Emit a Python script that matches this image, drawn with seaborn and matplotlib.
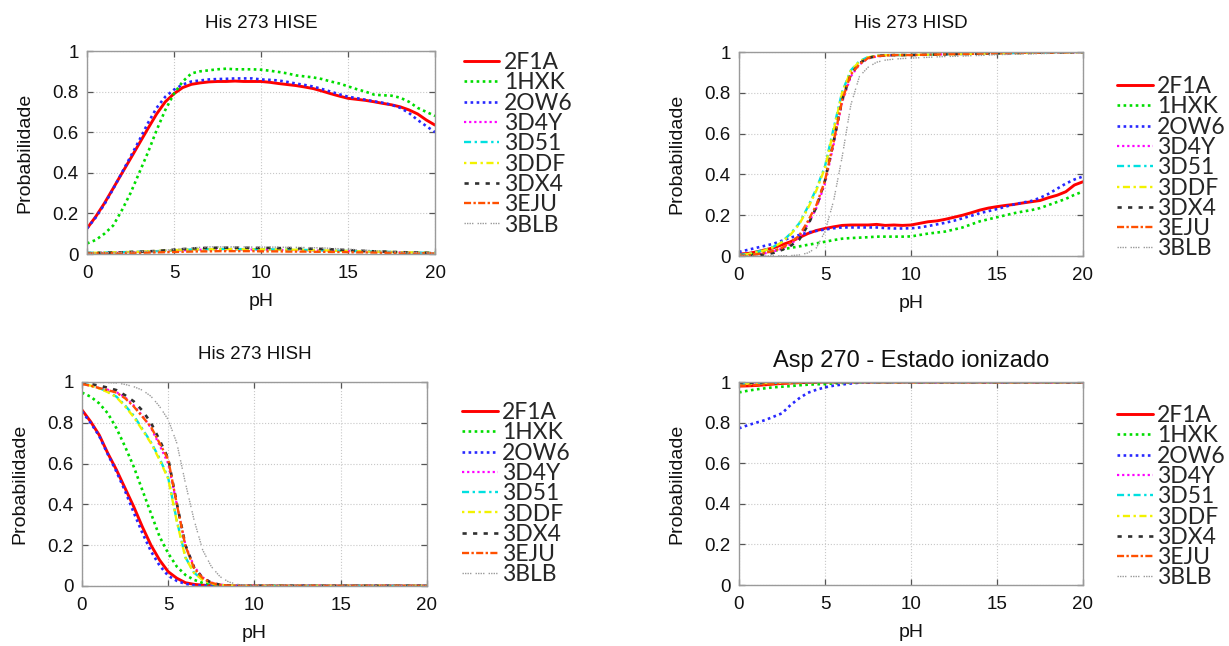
import matplotlib
matplotlib.use("Agg")
import matplotlib.pyplot as plt
import pandas as pd
import seaborn as sns
from matplotlib.font_manager import FontProperties

# ---------------------------------------------------------------- data
series = ["2F1A", "1HXK", "2OW6", "3D4Y", "3D51", "3DDF", "3DX4", "3EJU", "3BLB"]

ph_full = [0, 0.5, 1, 1.5, 2, 2.5, 3, 3.5, 4, 4.5, 5, 5.5, 6, 6.5, 7, 7.5, 8, 8.5, 9, 9.5,
           10, 10.5, 11, 11.5, 12, 12.5, 13, 13.5, 14, 14.5, 15, 15.5, 16, 16.5, 17, 17.5,
           18, 18.5, 19, 19.5, 20]
ph_hish = [0, 0.5, 1, 1.5, 2, 2.5, 3, 3.5, 4, 4.5, 5, 5.5, 6, 6.5, 7, 7.5, 8, 8.5, 9, 9.5,
           10, 12, 14, 16, 18, 20]
ph_asp = [0, 0.5, 1, 1.5, 2, 2.5, 3, 3.5, 4, 4.5, 5, 5.5, 6, 6.5, 7, 7.5, 8,
          10, 12, 14, 16, 18, 20]

# His 273 - HISE
hise_2f1a = [0.126, 0.184, 0.25, 0.323, 0.397, 0.47, 0.544, 0.618, 0.69, 0.75, 0.79, 0.82, 0.836, 0.843,
             0.848, 0.85, 0.85, 0.852, 0.85, 0.85, 0.85, 0.846, 0.84, 0.835, 0.83, 0.823, 0.815, 0.803,
             0.79, 0.778, 0.767, 0.762, 0.757, 0.75, 0.742, 0.735, 0.725, 0.71, 0.69, 0.66, 0.635]
hise_1hxk = [0.052, 0.069, 0.10, 0.14, 0.215, 0.30, 0.40, 0.50, 0.61, 0.71, 0.79, 0.85, 0.89, 0.90,
             0.905, 0.91, 0.913, 0.91, 0.91, 0.91, 0.908, 0.903, 0.897, 0.89, 0.88, 0.875, 0.87, 0.862,
             0.85, 0.84, 0.826, 0.812, 0.80, 0.785, 0.782, 0.78, 0.77, 0.75, 0.72, 0.70, 0.68]
hise_2ow6 = [0.126, 0.18, 0.245, 0.32, 0.40, 0.48, 0.56, 0.645, 0.72, 0.775, 0.81, 0.835, 0.85, 0.855,
             0.86, 0.862, 0.863, 0.865, 0.865, 0.865, 0.86, 0.858, 0.855, 0.848, 0.84, 0.833, 0.825,
             0.813, 0.80, 0.787, 0.775, 0.768, 0.76, 0.752, 0.745, 0.735, 0.72, 0.695, 0.66, 0.63, 0.60]
hise_3d4y = [0.005, 0.005, 0.006, 0.007, 0.008, 0.009, 0.010, 0.011, 0.012, 0.014, 0.016, 0.018, 0.020,
             0.021, 0.022, 0.022, 0.022, 0.022, 0.022, 0.022, 0.021, 0.021, 0.020, 0.020, 0.019, 0.019,
             0.018, 0.017, 0.016, 0.015, 0.014, 0.013, 0.012, 0.011, 0.010, 0.009, 0.008, 0.007, 0.006,
             0.005, 0.005]
hise_3d51 = [0.006, 0.006, 0.007, 0.008, 0.009, 0.010, 0.011, 0.012, 0.014, 0.016, 0.018, 0.020, 0.022,
             0.023, 0.024, 0.024, 0.025, 0.024, 0.024, 0.024, 0.023, 0.023, 0.022, 0.022, 0.021, 0.020,
             0.019, 0.018, 0.017, 0.016, 0.015, 0.014, 0.013, 0.012, 0.011, 0.010, 0.009, 0.008, 0.007,
             0.006, 0.006]
hise_3ddf = [0.005, 0.006, 0.007, 0.008, 0.009, 0.010, 0.011, 0.013, 0.015, 0.017, 0.019, 0.021, 0.022,
             0.023, 0.023, 0.024, 0.024, 0.024, 0.023, 0.023, 0.023, 0.022, 0.022, 0.021, 0.021, 0.020,
             0.019, 0.018, 0.017, 0.016, 0.015, 0.014, 0.013, 0.012, 0.011, 0.010, 0.009, 0.008, 0.007,
             0.006, 0.005]
hise_3dx4 = [0.004, 0.005, 0.006, 0.007, 0.008, 0.010, 0.011, 0.013, 0.015, 0.018, 0.021, 0.024, 0.027,
             0.029, 0.030, 0.031, 0.031, 0.031, 0.031, 0.030, 0.030, 0.030, 0.029, 0.029, 0.028, 0.027,
             0.026, 0.025, 0.023, 0.021, 0.019, 0.017, 0.015, 0.013, 0.012, 0.010, 0.009, 0.008, 0.007,
             0.006, 0.005]
hise_3eju = [0.003, 0.003, 0.004, 0.004, 0.005, 0.006, 0.006, 0.007, 0.008, 0.009, 0.010, 0.011, 0.012,
             0.013, 0.013, 0.014, 0.014, 0.014, 0.014, 0.014, 0.013, 0.013, 0.013, 0.012, 0.012, 0.012,
             0.011, 0.011, 0.010, 0.010, 0.009, 0.008, 0.008, 0.007, 0.006, 0.006, 0.005, 0.005, 0.004,
             0.004, 0.003]
hise_3blb = [0.004, 0.005, 0.006, 0.007, 0.009, 0.010, 0.012, 0.014, 0.016, 0.019, 0.022, 0.026, 0.030,
             0.033, 0.035, 0.035, 0.035, 0.035, 0.035, 0.034, 0.034, 0.034, 0.034, 0.033, 0.033, 0.032,
             0.031, 0.030, 0.028, 0.026, 0.024, 0.021, 0.019, 0.016, 0.014, 0.012, 0.010, 0.008, 0.007,
             0.006, 0.005]

# His 273 - HISD
hisd_2f1a = [0.010, 0.012, 0.020, 0.030, 0.040, 0.055, 0.070, 0.090, 0.110, 0.125, 0.135, 0.143, 0.150,
             0.152, 0.152, 0.152, 0.155, 0.150, 0.152, 0.150, 0.152, 0.160, 0.168, 0.172, 0.180, 0.190,
             0.200, 0.212, 0.225, 0.235, 0.242, 0.248, 0.253, 0.260, 0.266, 0.272, 0.286, 0.298, 0.315,
             0.348, 0.364]
hisd_1hxk = [0.000, 0.003, 0.010, 0.017, 0.025, 0.032, 0.040, 0.047, 0.055, 0.062, 0.070, 0.078, 0.085,
             0.088, 0.090, 0.092, 0.095, 0.095, 0.095, 0.095, 0.096, 0.103, 0.110, 0.115, 0.120, 0.130,
             0.140, 0.155, 0.170, 0.180, 0.190, 0.200, 0.210, 0.218, 0.225, 0.235, 0.250, 0.265, 0.280,
             0.300, 0.316]
hisd_2ow6 = [0.020, 0.030, 0.040, 0.050, 0.060, 0.075, 0.090, 0.103, 0.115, 0.123, 0.130, 0.136, 0.140,
             0.140, 0.140, 0.140, 0.140, 0.137, 0.135, 0.135, 0.136, 0.140, 0.147, 0.155, 0.163, 0.173,
             0.185, 0.197, 0.210, 0.220, 0.230, 0.242, 0.253, 0.262, 0.270, 0.285, 0.305, 0.330, 0.355,
             0.375, 0.390]
hisd_3d4y = [0.000, 0.003, 0.007, 0.013, 0.022, 0.036, 0.058, 0.092, 0.155, 0.235, 0.355, 0.545, 0.755,
             0.880, 0.938, 0.968, 0.978, 0.982, 0.984, 0.985, 0.985, 0.986, 0.987, 0.988, 0.989, 0.990,
             0.990, 0.991, 0.992, 0.993, 0.994, 0.994, 0.995, 0.996, 0.996, 0.997, 0.997, 0.998, 0.998,
             0.999, 1.000]
hisd_3d51 = [0.005, 0.010, 0.020, 0.030, 0.045, 0.070, 0.110, 0.160, 0.240, 0.330, 0.440, 0.625, 0.805,
             0.910, 0.955, 0.975, 0.982, 0.985, 0.985, 0.985, 0.986, 0.986, 0.987, 0.988, 0.989, 0.990,
             0.990, 0.991, 0.992, 0.993, 0.994, 0.994, 0.995, 0.996, 0.996, 0.997, 0.997, 0.998, 0.998,
             0.999, 1.000]
hisd_3ddf = [0.004, 0.009, 0.018, 0.028, 0.043, 0.068, 0.105, 0.155, 0.232, 0.322, 0.432, 0.615, 0.800,
             0.908, 0.953, 0.974, 0.981, 0.984, 0.985, 0.985, 0.985, 0.986, 0.987, 0.988, 0.989, 0.989,
             0.990, 0.991, 0.992, 0.993, 0.993, 0.994, 0.995, 0.995, 0.996, 0.997, 0.997, 0.998, 0.998,
             0.999, 1.000]
hisd_3dx4 = [0.000, 0.000, 0.003, 0.008, 0.015, 0.030, 0.050, 0.080, 0.150, 0.240, 0.370, 0.560, 0.765,
             0.890, 0.945, 0.970, 0.980, 0.983, 0.985, 0.985, 0.985, 0.986, 0.987, 0.988, 0.989, 0.990,
             0.990, 0.991, 0.992, 0.993, 0.994, 0.994, 0.995, 0.996, 0.996, 0.997, 0.997, 0.998, 0.998,
             0.999, 1.000]
hisd_3eju = [0.000, 0.003, 0.008, 0.015, 0.025, 0.040, 0.065, 0.100, 0.170, 0.250, 0.370, 0.560, 0.765,
             0.890, 0.940, 0.970, 0.980, 0.983, 0.985, 0.985, 0.985, 0.986, 0.987, 0.988, 0.989, 0.990,
             0.990, 0.991, 0.992, 0.993, 0.994, 0.994, 0.995, 0.996, 0.996, 0.997, 0.997, 0.998, 0.998,
             0.999, 1.000]
hisd_3blb = [0.000, 0.000, 0.000, 0.000, 0.001, 0.001, 0.002, 0.005, 0.015, 0.040, 0.120, 0.270, 0.487,
             0.740, 0.880, 0.925, 0.950, 0.960, 0.965, 0.968, 0.970, 0.972, 0.974, 0.976, 0.978, 0.979,
             0.980, 0.982, 0.983, 0.985, 0.987, 0.988, 0.989, 0.990, 0.991, 0.992, 0.993, 0.995, 0.996,
             0.998, 1.000]

# His 273 - HISH
hish_2f1a = [0.863, 0.806, 0.740, 0.650, 0.569, 0.479, 0.389, 0.290, 0.200, 0.127, 0.070, 0.038, 0.016,
             0.008, 0.004, 0.002, 0.001, 0.0, 0.0, 0.0, 0.0, 0.0, 0.0, 0.0, 0.0, 0.0]
hish_1hxk = [0.948, 0.928, 0.895, 0.846, 0.773, 0.683, 0.585, 0.470, 0.356, 0.242, 0.160, 0.095, 0.054,
             0.030, 0.015, 0.007, 0.003, 0.001, 0.0, 0.0, 0.0, 0.0, 0.0, 0.0, 0.0, 0.0]
hish_2ow6 = [0.855, 0.800, 0.735, 0.645, 0.560, 0.465, 0.360, 0.260, 0.170, 0.100, 0.050, 0.025, 0.010,
             0.004, 0.002, 0.001, 0.0, 0.0, 0.0, 0.0, 0.0, 0.0, 0.0, 0.0, 0.0, 0.0]
hish_3d4y = [0.990, 0.982, 0.970, 0.962, 0.950, 0.925, 0.885, 0.835, 0.775, 0.690, 0.600, 0.400, 0.200,
             0.095, 0.042, 0.017, 0.007, 0.003, 0.001, 0.0, 0.0, 0.0, 0.0, 0.0, 0.0, 0.0]
hish_3d51 = [0.993, 0.983, 0.970, 0.952, 0.928, 0.885, 0.835, 0.770, 0.705, 0.625, 0.530, 0.320, 0.140,
             0.065, 0.030, 0.013, 0.005, 0.002, 0.001, 0.0, 0.0, 0.0, 0.0, 0.0, 0.0, 0.0]
hish_3ddf = [0.992, 0.982, 0.968, 0.950, 0.925, 0.880, 0.828, 0.765, 0.700, 0.618, 0.525, 0.315, 0.138,
             0.063, 0.029, 0.012, 0.005, 0.002, 0.001, 0.0, 0.0, 0.0, 0.0, 0.0, 0.0, 0.0]
hish_3dx4 = [0.995, 0.990, 0.982, 0.972, 0.960, 0.935, 0.905, 0.860, 0.800, 0.715, 0.625, 0.405, 0.200,
             0.090, 0.040, 0.016, 0.006, 0.002, 0.001, 0.0, 0.0, 0.0, 0.0, 0.0, 0.0, 0.0]
hish_3eju = [0.990, 0.982, 0.970, 0.960, 0.948, 0.920, 0.880, 0.830, 0.780, 0.700, 0.620, 0.400, 0.195,
             0.087, 0.038, 0.015, 0.006, 0.002, 0.001, 0.0, 0.0, 0.0, 0.0, 0.0, 0.0, 0.0]
hish_3blb = [1.000, 1.000, 0.998, 0.997, 0.995, 0.988, 0.977, 0.960, 0.930, 0.880, 0.815, 0.700, 0.503,
             0.323, 0.176, 0.095, 0.046, 0.020, 0.008, 0.003, 0.001, 0.0, 0.0, 0.0, 0.0, 0.0]

# Asp 270 - ionized state
asp_2f1a = [0.980, 0.981, 0.983, 0.986, 0.990, 0.993, 0.995, 0.997, 0.998, 0.999, 1.0, 1.0, 1.0, 1.0,
            1.0, 1.0, 1.0, 1.0, 1.0, 1.0, 1.0, 1.0, 1.0]
asp_1hxk = [0.949, 0.957, 0.964, 0.969, 0.974, 0.977, 0.980, 0.984, 0.987, 0.989, 0.990, 0.993, 0.995,
            0.997, 0.999, 1.0, 1.0, 1.0, 1.0, 1.0, 1.0, 1.0, 1.0]
asp_2ow6 = [0.772, 0.787, 0.800, 0.812, 0.829, 0.846, 0.887, 0.920, 0.947, 0.962, 0.974, 0.982, 0.988,
            0.993, 0.997, 0.999, 1.0, 1.0, 1.0, 1.0, 1.0, 1.0, 1.0]
asp_3d4y = [0.993, 0.994, 0.995, 0.996, 0.997, 0.998, 0.999, 1.0, 1.0, 1.0, 1.0, 1.0, 1.0, 1.0, 1.0,
            1.0, 1.0, 1.0, 1.0, 1.0, 1.0, 1.0, 1.0]
asp_3d51 = [0.990, 0.991, 0.993, 0.995, 0.996, 0.997, 0.998, 0.999, 1.0, 1.0, 1.0, 1.0, 1.0, 1.0, 1.0,
            1.0, 1.0, 1.0, 1.0, 1.0, 1.0, 1.0, 1.0]
asp_3ddf = [0.991, 0.992, 0.993, 0.995, 0.996, 0.997, 0.998, 0.999, 1.0, 1.0, 1.0, 1.0, 1.0, 1.0, 1.0,
            1.0, 1.0, 1.0, 1.0, 1.0, 1.0, 1.0, 1.0]
asp_3dx4 = [0.995, 0.996, 0.997, 0.998, 0.999, 1.0, 1.0, 1.0, 1.0, 1.0, 1.0, 1.0, 1.0, 1.0, 1.0, 1.0,
            1.0, 1.0, 1.0, 1.0, 1.0, 1.0, 1.0]
asp_3eju = [0.982, 0.983, 0.985, 0.988, 0.991, 0.994, 0.996, 0.998, 0.999, 1.0, 1.0, 1.0, 1.0, 1.0,
            1.0, 1.0, 1.0, 1.0, 1.0, 1.0, 1.0, 1.0, 1.0]
asp_3blb = [0.997, 0.998, 0.999, 1.0, 1.0, 1.0, 1.0, 1.0, 1.0, 1.0, 1.0, 1.0, 1.0, 1.0, 1.0, 1.0, 1.0,
            1.0, 1.0, 1.0, 1.0, 1.0, 1.0]

titles = ["His 273 HISE", "His 273 HISD", "His 273 HISH", "Asp 270 - Estado ionizado"]
x_ticks = [0, 5, 10, 15, 20]
x_tick_labels = ["0", "5", "10", "15", "20"]
y_ticks = [0, 0.2, 0.4, 0.6, 0.8, 1.0]
y_tick_labels = ["0", "0.2", "0.4", "0.6", "0.8", "1"]

# ---------------------------------------------------------------- styles
colors = {"2F1A": "#ff0000", "1HXK": "#00dd00", "2OW6": "#2828ff", "3D4Y": "#ff00ff",
          "3D51": "#00e0e0", "3DDF": "#f2f200", "3DX4": "#303030", "3EJU": "#ff5000",
          "3BLB": "#9a9a9a"}
dashes = {"2F1A": "", "1HXK": (1, 1.3), "2OW6": (1, 1.3), "3D4Y": (1, 1.3),
          "3D51": (3, 1.5, 1, 1.5), "3DDF": (1, 1.5, 3, 1.5), "3DX4": (1.6, 2.4),
          "3EJU": (3, 1, 1, 1), "3BLB": (1, 0.8, 1, 0.8, 1, 0.8, 1, 3)}
widths = {"2F1A": 2.1, "1HXK": 1.9, "2OW6": 1.9, "3D4Y": 1.6, "3D51": 1.7, "3DDF": 1.7,
          "3DX4": 1.9, "3EJU": 1.7, "3BLB": 1.0}

sns.set_theme(style="white")
plt.rcParams["font.family"] = ["Liberation Sans", "DejaVu Sans"]

fig = plt.figure(figsize=(12.29, 6.46), dpi=100)

panels = [
    (ph_full, [hise_2f1a, hise_1hxk, hise_2ow6, hise_3d4y, hise_3d51, hise_3ddf, hise_3dx4, hise_3eju, hise_3blb]),
    (ph_full, [hisd_2f1a, hisd_1hxk, hisd_2ow6, hisd_3d4y, hisd_3d51, hisd_3ddf, hisd_3dx4, hisd_3eju, hisd_3blb]),
    (ph_hish, [hish_2f1a, hish_1hxk, hish_2ow6, hish_3d4y, hish_3d51, hish_3ddf, hish_3dx4, hish_3eju, hish_3blb]),
    (ph_asp, [asp_2f1a, asp_1hxk, asp_2ow6, asp_3d4y, asp_3d51, asp_3ddf, asp_3dx4, asp_3eju, asp_3blb]),
]

# axes rectangles [left, bottom, width, height] in figure fractions
rects = [
    [0.0708, 0.6068, 0.2832, 0.3142],
    [0.6013, 0.6037, 0.2799, 0.3158],
    [0.0667, 0.0929, 0.2807, 0.3158],
    [0.6013, 0.0944, 0.2799, 0.3142],
]
legend_anchor = [(0.3775, 0.9195), (0.9089, 0.8824), (0.3759, 0.3778), (0.9089, 0.3731)]
title_size = [13.5, 13.5, 13.5, 17]
title_pad = [16.5, 17.0, 16.5, 11.0]

legend_font = FontProperties(family=["Lato", "DejaVu Sans"], size=16.5)

for i, (ph, values) in enumerate(panels):
    ax = fig.add_axes(rects[i])
    frame = pd.DataFrame({
        "pH": [p for _ in series for p in ph],
        "Probabilidade": [v for vals in values for v in vals],
        "serie": [s for s in series for _ in ph],
    })
    sns.lineplot(data=frame, x="pH", y="Probabilidade", hue="serie", style="serie", size="serie",
                 hue_order=series, style_order=series, size_order=series,
                 palette=colors, dashes=dashes, sizes=widths, errorbar=None,
                 sort=False, ax=ax, legend="full")

    ax.set_xlim(0, 20)
    ax.set_ylim(0, 1)
    ax.set_xticks(x_ticks, x_tick_labels)
    ax.set_yticks(y_ticks, y_tick_labels)
    ax.grid(True, color="#c8c8c8", linestyle=":", linewidth=0.8)
    ax.set_axisbelow(True)
    for sp in ax.spines.values():
        sp.set_color("#9a9a9a")
        sp.set_linewidth(1.0)
    ax.tick_params(direction="in", length=4, width=0.9, color="#555555",
                   top=True, right=True, bottom=True, left=True,
                   labelsize=13.5, labelcolor="#111111")
    ax.tick_params(axis="x", pad=8)
    ax.tick_params(axis="y", pad=6)
    ax.set_xlabel("pH", fontsize=14, color="#111111", labelpad=8)
    ax.set_ylabel("Probabilidade", fontsize=14, color="#111111", labelpad=14)
    ax.set_title(titles[i], fontsize=title_size[i], color="#111111", pad=title_pad[i])

    sns.move_legend(ax, "upper left", bbox_to_anchor=legend_anchor[i],
                    bbox_transform=fig.transFigure, frameon=False, title=None,
                    prop=legend_font, handlelength=1.55, handletextpad=0.2,
                    labelspacing=-0.03, borderpad=0, borderaxespad=0)

fig.savefig("out.png", dpi=100, facecolor="white")
